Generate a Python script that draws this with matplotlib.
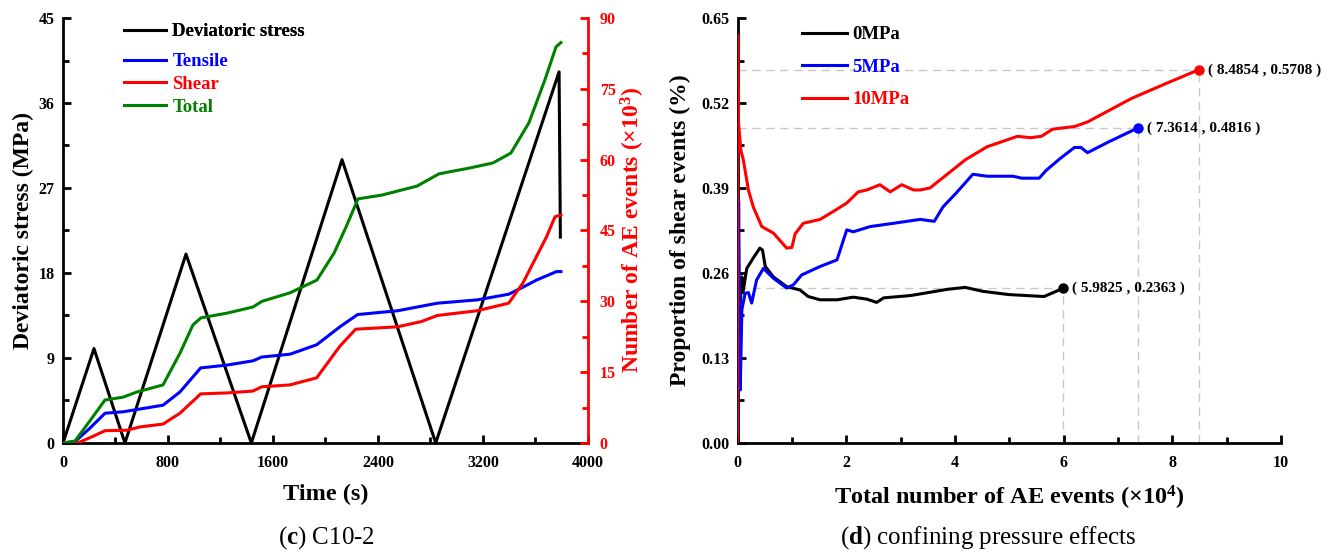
import matplotlib
matplotlib.use('Agg')
import matplotlib.pyplot as plt
from matplotlib.ticker import MultipleLocator

plt.rcParams['font.family'] = ['Liberation Serif', 'DejaVu Serif']
plt.rcParams['font.weight'] = 'bold'
plt.rcParams['mathtext.fontset'] = 'custom'
plt.rcParams['mathtext.rm'] = 'Liberation Serif'
plt.rcParams['mathtext.bf'] = 'Liberation Serif:bold'

# === (c) C10-2 data ===
stress_t = [0, 236, 472, 937, 1435, 2126, 2840, 3780, 3790]
stress_v = [0, 10.0, 0, 20.0, 0, 30.0, 0, 39.3, 21.8]

total_t = [0, 91, 200, 320, 457, 564, 762, 891, 990, 1051, 1250, 1448, 1516, 1730,
           1935, 2065, 2156, 2248, 2430, 2697, 2865, 3093, 3276, 3413, 3550, 3672,
           3757, 3794]
total_v = [0, 0.4, 4.5, 9.1, 9.7, 10.8, 12.3, 19.0, 25.0, 26.5, 27.5, 28.8, 30.0, 31.8,
           34.5, 40.2, 45.7, 51.7, 52.5, 54.4, 57.0, 58.2, 59.3, 61.4, 67.8, 76.9,
           83.9, 84.8]

tensile_t = [0, 91, 200, 320, 457, 762, 891, 1049, 1250, 1448, 1514, 1730, 1933,
             2110, 2245, 2549, 2852, 3154, 3396, 3505, 3608, 3761, 3794]
tensile_v = [0, 0.3, 3.0, 6.3, 6.6, 8.0, 10.8, 15.9, 16.5, 17.4, 18.2, 18.8, 20.8,
             24.6, 27.2, 28.0, 29.6, 30.3, 31.5, 33.0, 34.5, 36.3, 36.3]

shear_t = [0, 120, 220, 320, 485, 587, 762, 891, 1049, 1250, 1448, 1514, 1730, 1933,
           2110, 2230, 2549, 2729, 2852, 3154, 3396, 3505, 3685, 3749, 3794]
shear_v = [0, 0.1, 1.3, 2.6, 2.7, 3.4, 4.0, 6.3, 10.4, 10.6, 11.0, 11.9, 12.3, 13.8,
           20.5, 24.1, 24.6, 25.7, 27.0, 28.0, 29.6, 33.9, 43.7, 47.9, 48.3]

# === (d) confining pressure data ===
p0_x = [0, 0.015, 0.05, 0.08, 0.1, 0.17, 0.29, 0.41, 0.46, 0.51, 0.66, 0.906, 1.15,
        1.30, 1.52, 1.83, 2.13, 2.38, 2.56, 2.69, 3.12, 3.22, 3.86, 4.19, 4.51, 4.99,
        5.64, 5.9825]
p0_y = [0, 0.153, 0.214, 0.254, 0.23, 0.267, 0.283, 0.298, 0.295, 0.27, 0.254, 0.239,
        0.234, 0.224, 0.219, 0.219, 0.223, 0.22, 0.215, 0.222, 0.225, 0.226, 0.235,
        0.238, 0.232, 0.227, 0.224, 0.2363]

p5_x = [0, 0.02, 0.05, 0.08, 0.14, 0.2, 0.26, 0.35, 0.475, 0.66, 0.906, 1.03, 1.18,
        1.52, 1.83, 2.01, 2.13, 2.44, 2.87, 3.36, 3.62, 3.78, 4.02, 4.33, 4.59, 5.07,
        5.23, 5.55, 5.68, 5.92, 6.20, 6.32, 6.44, 6.84, 7.3614]
p5_y = [0, 0.37, 0.081, 0.204, 0.229, 0.23, 0.214, 0.249, 0.267, 0.252, 0.237, 0.242,
        0.257, 0.27, 0.28, 0.326, 0.323, 0.331, 0.336, 0.342, 0.339, 0.361, 0.382,
        0.411, 0.408, 0.408, 0.405, 0.405, 0.417, 0.434, 0.452, 0.452, 0.444, 0.461,
        0.4816]

p10_x = [0, 0.003, 0.015, 0.06, 0.107, 0.2, 0.29, 0.446, 0.66, 0.906, 1.0, 1.06, 1.21,
         1.52, 1.76, 2.01, 2.22, 2.38, 2.62, 2.81, 3.02, 3.24, 3.36, 3.54, 4.19, 4.59,
         5.15, 5.39, 5.59, 5.80, 6.20, 6.44, 7.25, 7.89, 8.4854]
p10_y = [0, 0.624, 0.494, 0.448, 0.433, 0.387, 0.361, 0.331, 0.321, 0.298, 0.299, 0.32,
         0.336, 0.342, 0.354, 0.367, 0.384, 0.387, 0.395, 0.384, 0.395, 0.387, 0.387,
         0.39, 0.433, 0.453, 0.469, 0.467, 0.469, 0.48, 0.484, 0.491, 0.527, 0.55,
         0.5708]

end_pts = [(5.9825, 0.2363, 'black'), (7.3614, 0.4816, 'blue'), (8.4854, 0.5708, 'red')]

fig = plt.figure(figsize=(13.32, 5.54), dpi=100)

# === Panel (c) ===
ax = fig.add_axes([0.0473, 0.2004, 0.3941, 0.7671])
ax2 = ax.twinx()
l_s, = ax.plot(stress_t, stress_v, color='black', lw=2.2, label='Deviatoric stress')
l_t, = ax2.plot(tensile_t, tensile_v, color='blue', lw=2.2, label='Tensile')
l_sh, = ax2.plot(shear_t, shear_v, color='red', lw=2.2, label='Shear')
l_to, = ax2.plot(total_t, total_v, color='green', lw=2.2, label='Total')

ax.set_xlim(0, 4000)
ax.set_ylim(0, 45)
ax2.set_ylim(0, 90)
ax.xaxis.set_major_locator(MultipleLocator(800))
ax.xaxis.set_minor_locator(MultipleLocator(400))
ax.yaxis.set_major_locator(MultipleLocator(9))
ax.yaxis.set_minor_locator(MultipleLocator(4.5))
ax2.yaxis.set_major_locator(MultipleLocator(15))
ax2.yaxis.set_minor_locator(MultipleLocator(7.5))

for a in (ax, ax2):
    a.spines['top'].set_visible(False)
    for s in a.spines.values():
        s.set_linewidth(2)
ax.spines['right'].set_visible(False)
ax2.spines['left'].set_visible(False)
ax2.spines['bottom'].set_visible(False)
ax2.spines['right'].set_color('red')

ax.tick_params(which='both', direction='in', width=2, labelsize=11.5)
ax.tick_params(which='major', length=6)
ax.tick_params(which='minor', length=4)
ax.tick_params(axis='x', pad=9)
ax.tick_params(axis='y', pad=6)
ax2.tick_params(which='both', direction='in', width=2, labelsize=11.5,
                colors='red', pad=8.5)
ax2.tick_params(which='major', length=6)
ax2.tick_params(which='minor', length=4)

ax.set_xlabel('Time (s)', fontsize=17.5, fontweight='bold', labelpad=9)
ax.set_ylabel('Deviatoric stress (MPa)', fontsize=17, fontweight='bold', labelpad=3)
ax2.set_ylabel(r'Number of AE events (×$\mathbf{10^{3}}$)', fontsize=17,
               fontweight='bold', color='red', labelpad=2.5)

leg1 = ax.legend(handles=[l_s], loc='upper left', bbox_to_anchor=(0.085, 1.028),
                 frameon=False, prop={'size': 13.5, 'weight': 'bold'},
                 handlelength=2.24, handletextpad=0.32)
leg1.get_texts()[0].set_color('black')
ax.add_artist(leg1)
leg2 = ax2.legend(handles=[l_t, l_sh, l_to], loc='upper left',
                  bbox_to_anchor=(0.085, 0.957), frameon=False,
                  prop={'size': 13.5, 'weight': 'bold'}, handlelength=2.24,
                  handletextpad=0.32, labelspacing=0.3)
for txt, c in zip(leg2.get_texts(), ['blue', 'red', 'green']):
    txt.set_color(c)

# === Panel (d) ===
bx = fig.add_axes([0.5537, 0.2004, 0.4080, 0.7671])
for x, y, c in end_pts:
    bx.plot([0, x], [y, y], color='#c8c8c8', lw=1, ls=(0, (6, 4)), zorder=1)
    bx.plot([x, x], [0, y], color='#c8c8c8', lw=1, ls=(0, (6, 4)), zorder=1)
b0, = bx.plot(p0_x, p0_y, color='black', lw=2.2, label='0MPa', zorder=3)
b5, = bx.plot(p5_x, p5_y, color='blue', lw=2.2, label='5MPa', zorder=3)
b10, = bx.plot(p10_x, p10_y, color='red', lw=2.2, label='10MPa', zorder=3)
for x, y, c in end_pts:
    bx.plot(x, y, 'o', color=c, ms=6.5, zorder=4)
    bx.text(x + 0.18, y, '( %.4f , %.4f )' % (x, y), fontsize=11,
            fontweight='bold', va='center', ha='left')

bx.set_xlim(0, 10)
bx.set_ylim(0, 0.65)
bx.xaxis.set_major_locator(MultipleLocator(2))
bx.xaxis.set_minor_locator(MultipleLocator(1))
bx.yaxis.set_major_locator(MultipleLocator(0.13))
bx.yaxis.set_minor_locator(MultipleLocator(0.065))
bx.yaxis.set_major_formatter(plt.FormatStrFormatter('%.2f'))
bx.spines['top'].set_visible(False)
bx.spines['right'].set_visible(False)
for s in bx.spines.values():
    s.set_linewidth(2)
bx.tick_params(which='both', direction='in', width=2, labelsize=11.5)
bx.tick_params(which='major', length=6)
bx.tick_params(which='minor', length=4)
bx.tick_params(axis='x', pad=9)
bx.tick_params(axis='y', pad=6)
bx.set_xlabel(r'Total number of AE events (×$\mathbf{10^{4}}$)', fontsize=17.5,
              fontweight='bold', labelpad=9)
bx.set_ylabel('Proportion of shear events (%)', fontsize=17, fontweight='bold',
              labelpad=7.5)
leg3 = bx.legend(handles=[b0, b5, b10], loc='upper left', bbox_to_anchor=(0.087, 1.021),
                 frameon=False, prop={'size': 13.5, 'weight': 'bold'},
                 handlelength=2.4, handletextpad=0.32, labelspacing=0.83)
for txt, c in zip(leg3.get_texts(), ['black', 'blue', 'red']):
    txt.set_color(c)

# === Captions ===
fig.text(0.245, 0.018, r'($\mathbf{c}$) C10-2', fontsize=18, fontweight='normal',
         ha='center', va='baseline')
fig.text(0.742, 0.018, r'($\mathbf{d}$) confining pressure effects', fontsize=18,
         fontweight='normal', ha='center', va='baseline')

fig.savefig('out.png', dpi=100)
